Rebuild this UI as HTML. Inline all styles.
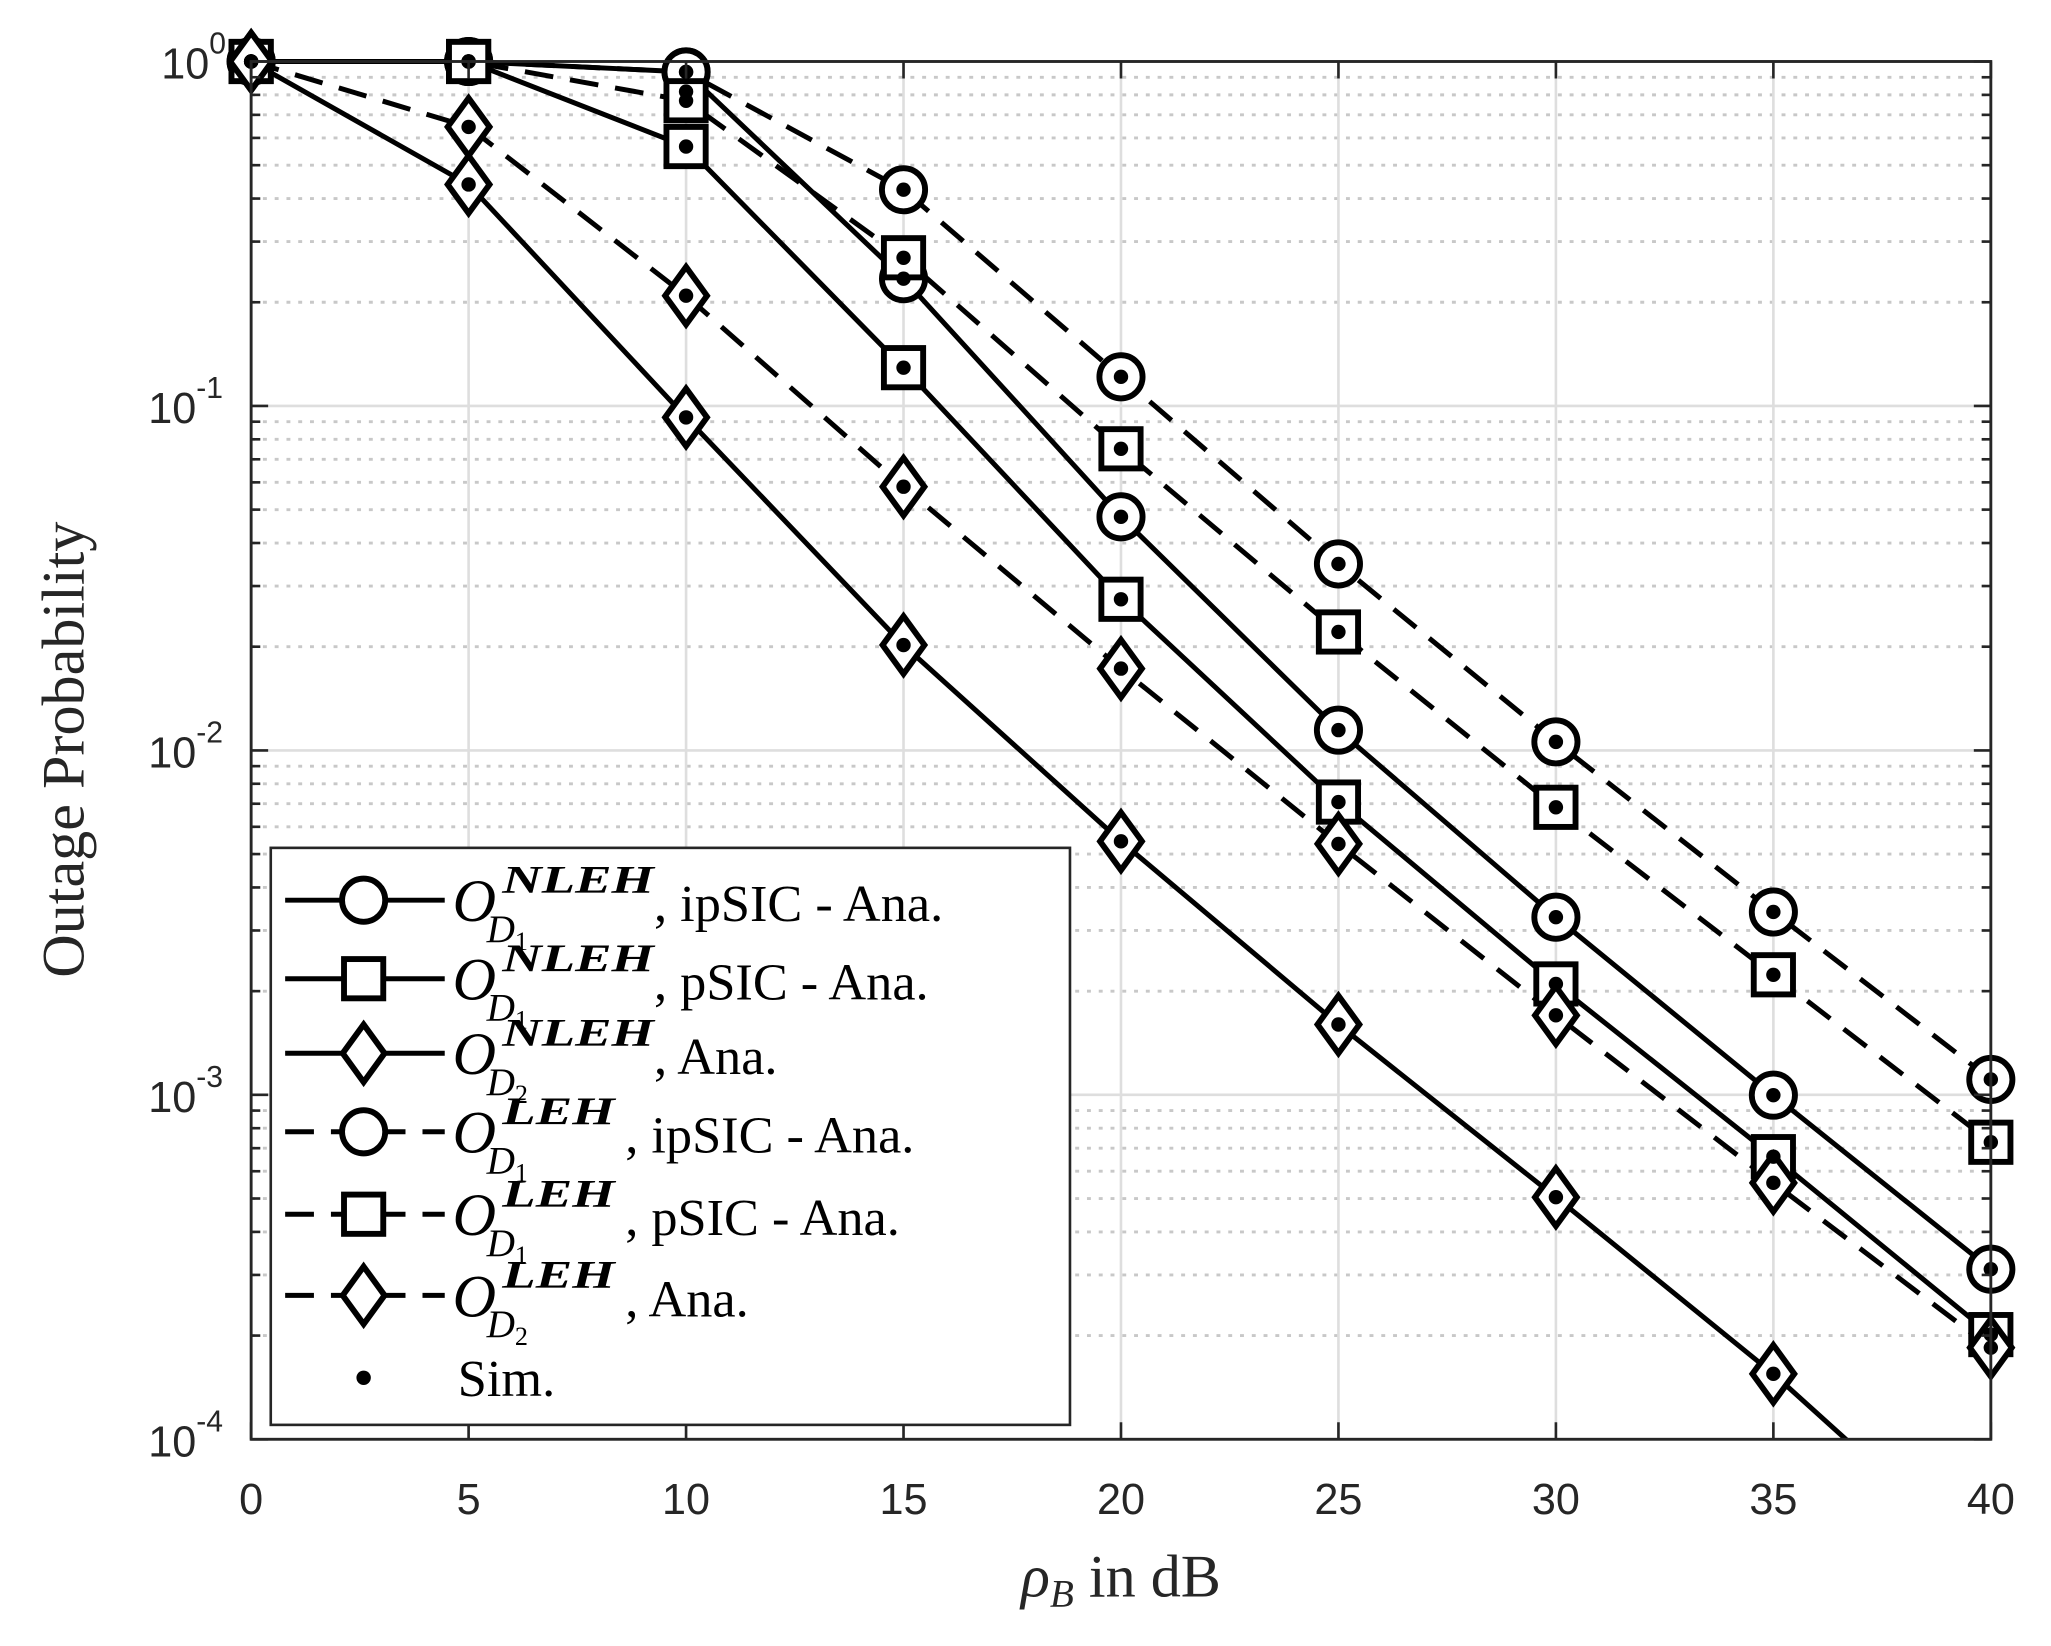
<!DOCTYPE html>
<html><head><meta charset="utf-8"><style>
html,body{margin:0;padding:0;background:#fff;}
svg{display:block;}
</style></head><body>
<svg id="s" width="2051" height="1646" viewBox="0 0 1568 1258" preserveAspectRatio="none" xmlns="http://www.w3.org/2000/svg">
<rect width="1568" height="1258" fill="#fff"/>
<g id="grid"></g>
<g id="series"></g>
<g id="axes"></g>
<g id="legend"></g>
</svg>
<script>
var NS="http://www.w3.org/2000/svg";
function el(p,t,a,txt){var e=document.createElementNS(NS,t);for(var k in a)e.setAttribute(k,a[k]);if(txt!==undefined)e.textContent=txt;document.getElementById(p).appendChild(e);return e;}
var L=192,R=1522,T=47,B=1100,D=263.25;
function X(r){return L+(R-L)*r/40;}
function Yl(lg){return T-lg*D;}
for(var d=0;d>-4;d--){for(var k=2;k<=9;k++){var y=Yl(d-1+Math.log10(k));
 el("grid","line",{x1:L,x2:R,y1:y,y2:y,stroke:"#c8c8c8","stroke-width":2.2,"stroke-dasharray":"3,6"});}}
for(var d=0;d>=-4;d--){var y=Yl(d);el("grid","line",{x1:L,x2:R,y1:y,y2:y,stroke:"#dedede","stroke-width":2});}
for(var r=0;r<=40;r+=5){el("grid","line",{x1:X(r),x2:X(r),y1:T,y2:B,stroke:"#dedede","stroke-width":2});}
var xs=[0,5,10,15,20,25,30,35,40];
var S=[
 {m:"c",d:0,y:[47,47,55,213,395,558,701,837,970]},
 {m:"s",d:0,y:[47,47,112,281,458,613,752,884,1020]},
 {m:"d",d:0,y:[47,141,319,493,643,783,915,1050,1200]},
 {m:"c",d:1,y:[47,47,55,145,288,431,567,697,825]},
 {m:"s",d:1,y:[47,47,77,197,343,483,617,745,873]},
 {m:"d",d:1,y:[47,97,226,372,511,645,776,904,1030]}
];
function marker(g,m,x,y){
 if(m=="c")el(g,"circle",{cx:x,cy:y,r:16.5,fill:"#fff",stroke:"#000","stroke-width":4.5});
 else if(m=="s")el(g,"rect",{x:x-15,y:y-15,width:30,height:30,fill:"#fff",stroke:"#000","stroke-width":4.5});
 else el(g,"polygon",{points:(x)+","+(y-22)+" "+(x+16)+","+y+" "+x+","+(y+22)+" "+(x-16)+","+y,fill:"#fff",stroke:"#000","stroke-width":4.5});
}
var cp=el("series","clipPath",{id:"cp"});
var cr=document.createElementNS(NS,"rect");cr.setAttribute("x",L-30);cr.setAttribute("y",0);cr.setAttribute("width",R-L+60);cr.setAttribute("height",B);cp.appendChild(cr);
var gl=el("series","g",{"clip-path":"url(#cp)"});gl.id="lines";
S.forEach(function(s){var pts=xs.map(function(r,i){return X(r)+","+s.y[i];}).join(" ");
 el("lines","polyline",{points:pts,fill:"none",stroke:"#000","stroke-width":3.8,"stroke-dasharray":s.d?"22,13":"none"});});
S.forEach(function(s){xs.forEach(function(r,i){if(s.y[i]<=B+5){marker("series",s.m,X(r),s.y[i]);}});});
S.forEach(function(s){xs.forEach(function(r,i){if(s.y[i]<=B+5)el("series","circle",{cx:X(r),cy:s.y[i],r:5.5,fill:"#000"});});});
el("series","circle",{cx:X(10),cy:70,r:5.5,fill:"#000"});
el("axes","rect",{x:L,y:T,width:R-L,height:B-T,fill:"none",stroke:"#262626","stroke-width":2.2});
for(var r=0;r<=40;r+=5){var x=X(r);el("axes","line",{x1:x,x2:x,y1:B,y2:B-13,stroke:"#262626","stroke-width":2});el("axes","line",{x1:x,x2:x,y1:T,y2:T+13,stroke:"#262626","stroke-width":2});
 el("axes","text",{x:x,y:1157,"font-family":"Liberation Sans, sans-serif","font-size":33,fill:"#262626","text-anchor":"middle"},String(r));}
for(var d=0;d>=-4;d--){var y=Yl(d);el("axes","line",{x1:L,x2:L+13,y1:y,y2:y,stroke:"#262626","stroke-width":2});el("axes","line",{x1:R,x2:R-13,y1:y,y2:y,stroke:"#262626","stroke-width":2});
 el("axes","text",{x:d==0?160:150,y:y+13,"font-family":"Liberation Sans, sans-serif","font-size":33,fill:"#262626","text-anchor":"end"},"10");
 el("axes","text",{x:d==0?160:150,y:y-6,"font-family":"Liberation Sans, sans-serif","font-size":23,fill:"#262626"},d==0?"0":String(d));}
for(var d=0;d>-4;d--){for(var k=2;k<=9;k++){var y=Yl(d-1+Math.log10(k));el("axes","line",{x1:L,x2:L+7,y1:y,y2:y,stroke:"#262626","stroke-width":2});el("axes","line",{x1:R,x2:R-7,y1:y,y2:y,stroke:"#262626","stroke-width":2});}}
el("axes","text",{x:0,y:0,"font-family":"Liberation Serif, serif","font-size":46,fill:"#262626","text-anchor":"middle",transform:"translate(64,573) rotate(-90)"},"Outage Probability");
var xl=el("axes","text",{x:857,y:1220,"font-family":"Liberation Serif, serif","font-size":46,fill:"#262626","text-anchor":"middle"});
xl.innerHTML='<tspan font-style="italic">ρ</tspan><tspan font-style="italic" font-size="30" dy="8">B</tspan><tspan dy="-8"> in dB</tspan>';
el("legend","rect",{x:207,y:648,width:611,height:441,fill:"#fff",stroke:"#262626","stroke-width":2});
var rows=[["c",0,"NLEH","1",", ipSIC - Ana."],["s",0,"NLEH","1",", pSIC - Ana."],["d",0,"NLEH","2",", Ana."],["c",1,"LEH","1",", ipSIC - Ana."],["s",1,"LEH","1",", pSIC - Ana."],["d",1,"LEH","2",", Ana."]];
var ry=[688,748,805,865,928,990];
rows.forEach(function(r,i){var y=ry[i];
 el("legend","line",{x1:218,x2:340,y1:y,y2:y,stroke:"#000","stroke-width":3.8,"stroke-dasharray":r[1]?"22,13":"none"});
 marker("legend",r[0],278,y);
 el("legend","text",{x:346,y:y+16,"font-family":"Liberation Serif, serif","font-size":46,"font-style":"italic",fill:"#000"},"O");
 el("legend","text",{x:384,y:y-6,"font-family":"Liberation Serif, serif","font-size":30,"font-style":"italic","font-weight":"bold",fill:"#000",textLength:r[2]=="NLEH"?116:86,lengthAdjust:"spacingAndGlyphs"},r[2]);
 var s2=el("legend","text",{x:372,y:y+32,"font-family":"Liberation Serif, serif","font-size":30,"font-style":"italic",fill:"#000"});
 s2.innerHTML='D<tspan font-style="normal" font-size="20" dy="6">'+r[3]+'</tspan>';
 el("legend","text",{x:r[2]=="NLEH"?500:478,y:y+16,"font-family":"Liberation Serif, serif","font-size":40,fill:"#000"},r[4]);
});
el("legend","circle",{cx:278,cy:1053,r:5.5,fill:"#000"});
el("legend","text",{x:350,y:1067,"font-family":"Liberation Serif, serif","font-size":40,fill:"#000"},"Sim.");
</script>
</body></html>
